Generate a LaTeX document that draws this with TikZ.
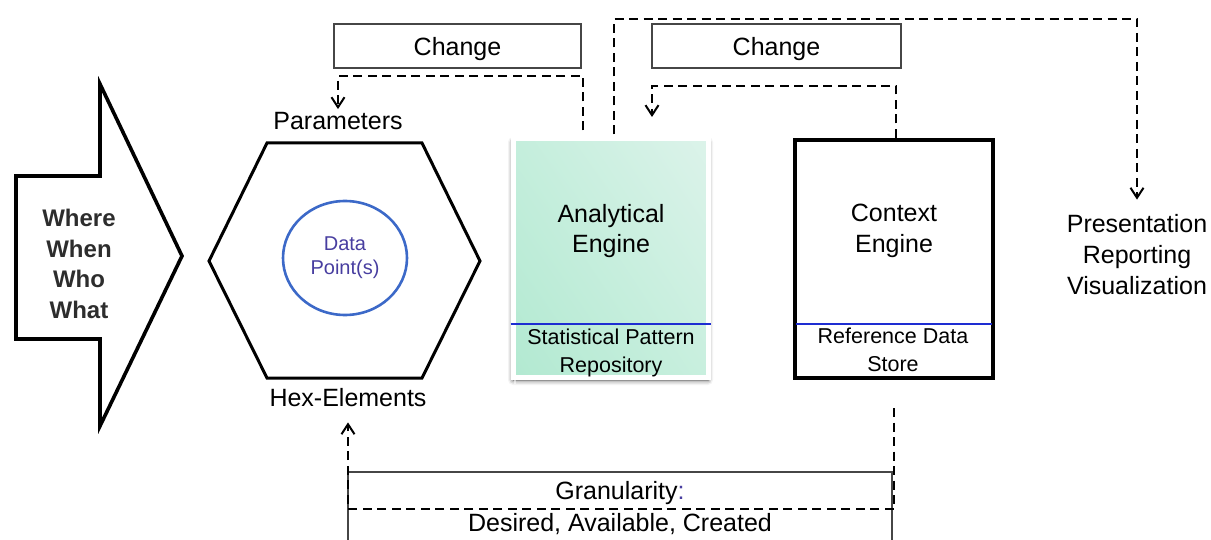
\documentclass[tikz,border=0pt]{standalone}
\usepackage{fontspec}
\setmainfont{Liberation Sans}
\usetikzlibrary{arrows.meta,shapes.geometric,shadows.blur,shadings}

\definecolor{boxgray}{RGB}{70,70,70}
\definecolor{dpblue}{RGB}{60,105,200}
\definecolor{dptext}{RGB}{72,62,160}
\definecolor{sepblue}{RGB}{30,45,210}
\definecolor{greenLL}{RGB}{178,233,209}
\definecolor{greenUL}{RGB}{196,238,220}
\definecolor{greenLR}{RGB}{200,239,222}
\definecolor{greenUR}{RGB}{220,243,234}
\definecolor{wtext}{RGB}{45,45,45}

\tikzset{
  lbl/.style={font=\fontsize{25}{30.5}\selectfont, align=center, inner sep=3pt},
  smalllbl/.style={lbl, font=\fontsize{21.5}{27.5}\selectfont},
  changebox/.style={draw=boxgray, line width=1.6pt, minimum width=247pt,
    minimum height=44pt, text depth=0pt, inner sep=0pt,
    font=\fontsize{25}{30}\selectfont},
  dline/.style={line width=2.8pt, dash pattern=on 9pt off 5.5pt},
  tipv/.style={-{Straight Barb[length=10pt,width=13pt,line width=2pt]}},
  sepline/.style={sepblue, line width=2pt},
}

\begin{document}
\begin{tikzpicture}[x=1pt,y=-1pt]
\useasboundingbox (0,0) rectangle (1211,540);
\clip (0,0) rectangle (1211,540);

% input block arrow
\draw[line width=3.6pt, line join=miter]
  (16,176) -- (100,176) -- (100,84) -- (182,256) -- (100,426)
  -- (100,339) -- (16,339) -- cycle;
\node[lbl, font=\bfseries\fontsize{24}{30.7}\selectfont, text=wtext] (www)
  at (79,264) {Where\\When\\Who\\What};

% hex element with its data point
\draw[line width=3pt, line join=miter]
  (209,261) -- (267,143) -- (422,143) -- (480,261) -- (422,378) -- (267,378) -- cycle;
\node[ellipse, draw=dpblue, line width=2.6pt, minimum width=124pt,
  minimum height=114pt, inner sep=0pt, align=center, text=dptext,
  font=\fontsize{20}{24}\selectfont] (dp) at (345,258) {Data\\Point(s)};
\node[lbl] (params) at (338,121) {Parameters};
\node[lbl] (hexlab) at (348,398) {Hex-Elements};

% analytical engine
\node[draw=white, line width=5pt,
  lower left=greenLL, upper left=greenUL, lower right=greenLR, upper right=greenUR,
  minimum width=195pt, minimum height=238pt,
  blur shadow={shadow xshift=0pt, shadow yshift=-3pt, shadow blur radius=5pt,
    shadow opacity=75}]
  (ae) at (610.5,258) {};
\draw[white, opacity=0.55, line width=2pt]
  ([xshift=4pt,yshift=-4pt]ae.south west) -- ([xshift=4pt,yshift=-4pt]ae.north west)
  -- ([xshift=-4pt,yshift=-4pt]ae.north east);
\draw[sepline] (ae.west |- 0,324) -- (ae.east |- 0,324);
\node[lbl] (aetitle) at (611,231) {Analytical\\Engine};
\node[smalllbl] (aerepo) at (611,353) {Statistical Pattern\\Repository};

% context engine
\node[draw, line width=4pt, minimum width=198pt, minimum height=238pt]
  (ce) at (894,259) {};
\draw[sepline, shorten <=3pt, shorten >=3pt] (ce.west |- 0,324) -- (ce.east |- 0,324);
\node[lbl] (cetitle) at (894,231) {Context\\Engine};
\node[smalllbl] (cestore) at (893,350) {Reference Data\\Store};

% output
\node[lbl, font=\fontsize{25}{31}\selectfont] (pres) at (1137,255)
  {Presentation\\Reporting\\Visualization};

% change boxes
\node[changebox] (chg1) at (457.5,46) {Change};
\node[changebox, minimum width=249pt] (chg2) at (776.5,46) {Change};

% granularity box
\node[draw=boxgray, line width=1.6pt, minimum width=544pt, minimum height=100pt]
  (gran) at (620,522) {};
\node[lbl] (granA) at (620,493) {Granularity\textcolor{dptext}{:}};
\node[lbl] (granB) at (620,524) {Desired, Available, Created};

% feedback connectors
\coordinate (rail1) at (0,76);
\coordinate (rail2) at (0,86);
\coordinate (rail3) at (0,19);
\coordinate (rail4) at (0,509);
\coordinate (c2end) at (652,117);

\draw[dline, tipv] ([xshift=-27.5pt,yshift=6pt]ae.north)
  |- (params.north |- rail1) -- (params.north);
\draw[dline, tipv] ([xshift=2pt]ce.north)
  |- (c2end |- rail2) -- (c2end);
\draw[dline, tipv] ([xshift=3.5pt,yshift=2pt]ae.north)
  |- (pres.north |- rail3) -- ([yshift=12pt]pres.north);
\draw[dline, tipv] ([yshift=-28pt]ce.south)
  |- (hexlab.south |- rail4) -- ([yshift=-12pt]hexlab.south);
\end{tikzpicture}
\end{document}
